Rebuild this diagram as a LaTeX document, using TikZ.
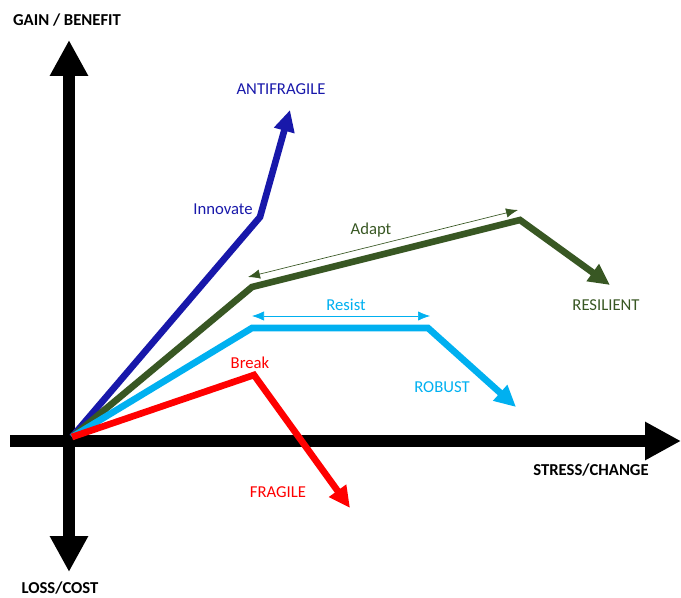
\documentclass[tikz,border=0pt]{standalone}
\usepackage{fontspec}
\setmainfont{Carlito}
\usetikzlibrary{arrows.meta}
\definecolor{antiblue}{RGB}{24,24,170}
\definecolor{resgreen}{RGB}{56,87,35}
\definecolor{robblue}{RGB}{0,176,240}
\definecolor{fragred}{RGB}{255,0,0}
\begin{document}
\begin{tikzpicture}[x=0.75pt,y=-0.75pt,
  every node/.style={font=\fontsize{12.5}{15}\selectfont},
  axis/.style={line width=9pt,-{Triangle[length=27pt,width=27pt]}},
  curve/.style={line width=5pt,line join=miter,-{Triangle[length=16pt,width=15pt]}},
  span/.style={line width=0.5pt,{Latex[length=9pt,width=7pt]}-{Latex[length=9pt,width=7pt]}},
  axlabel/.style={font=\fontsize{12.5}{15}\selectfont\bfseries}]
\useasboundingbox (0,0) rectangle (681,598);
% axes
\coordinate (O) at (69,441);
\coordinate (top) at (69,40);
\coordinate (bottom) at (69,572);
\coordinate (left) at (10,441);
\coordinate (right) at (681,441);
\draw[axis] (O) -- (top);
\draw[axis] (O) -- (bottom);
\draw[line width=9pt] (left) -- (O);
\draw[axis] (O) -- (right);
% curves
\coordinate (start) at (72,437);
\coordinate (a1) at (260,217);
\coordinate (a2) at (290,110);
\coordinate (r1) at (252,287);
\coordinate (r2) at (520,220);
\coordinate (r3) at (610,285);
\coordinate (b1) at (252,328);
\coordinate (b2) at (428,328);
\coordinate (b3) at (516,407);
\coordinate (f1) at (254,375);
\coordinate (f2) at (350,508);
\draw[curve,antiblue] (start) -- (a1) -- (a2);
\draw[curve,resgreen] (start) -- (r1) -- (r2) -- (r3);
\draw[curve,robblue] (start) -- (b1) -- (b2) -- (b3);
\draw[curve,fragred] (start) -- (f1) -- (f2);
% spans
\coordinate (ad1) at (248,277);
\coordinate (ad2) at (518,210);
\coordinate (rs1) at (252,316);
\coordinate (rs2) at (430,316);
\draw[span,resgreen] (ad1) -- (ad2);
\draw[span,robblue] (rs1) -- (rs2);
% labels
\node[axlabel] (gain) at (67,20) {GAIN / BENEFIT};
\node[axlabel] (loss) at (60,588) {LOSS/COST};
\node[axlabel] (stress) at (591,470) {STRESS/CHANGE};
\node[text=antiblue] (anti) at (281,89) {ANTIFRAGILE};
\node[text=antiblue] (innovate) at (223,209) {Innovate};
\node[text=resgreen] (adapt) at (371,230) {Adapt};
\node[text=resgreen] (resilient) at (606,305) {RESILIENT};
\node[text=robblue] (resist) at (346,305) {Resist};
\node[text=robblue] (robust) at (442,387) {ROBUST};
\node[text=fragred] (break) at (250,363) {Break};
\node[text=fragred] (fragile) at (278,492) {FRAGILE};
\end{tikzpicture}
\end{document}
